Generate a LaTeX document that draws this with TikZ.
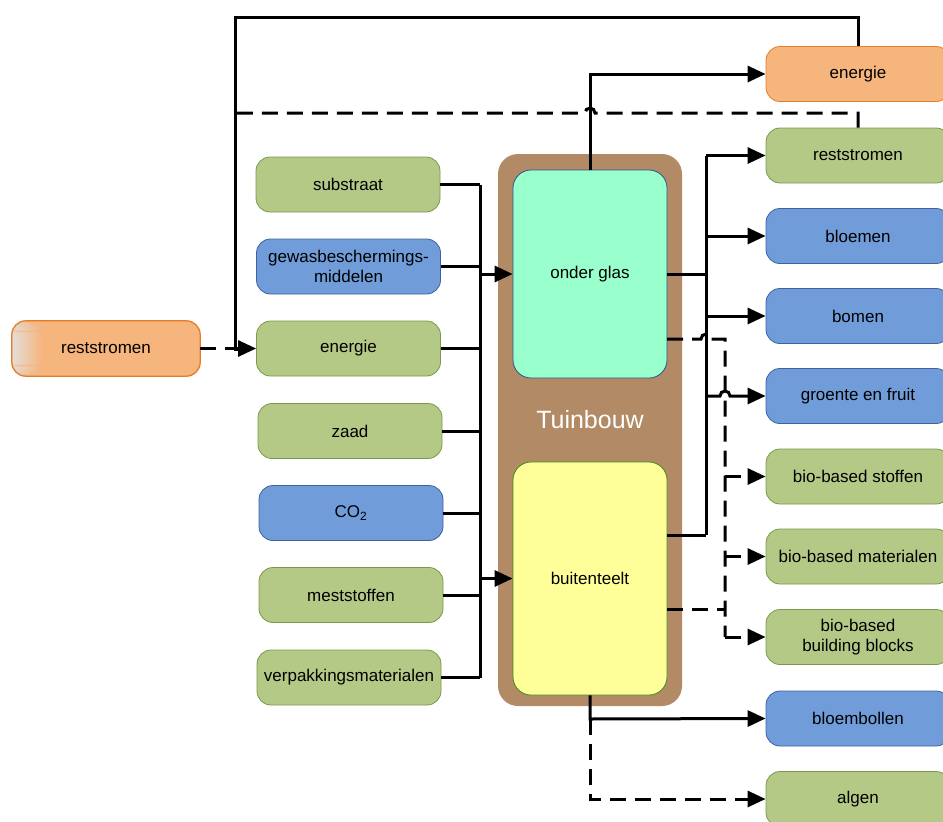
\documentclass[tikz,border=0pt]{standalone}
\usepackage{fontspec}
\setmainfont{Liberation Sans}
\usetikzlibrary{arrows.meta}
\definecolor{gfill}{RGB}{181,201,135}
\definecolor{gline}{RGB}{122,152,78}
\definecolor{bfill}{RGB}{112,157,217}
\definecolor{bline}{RGB}{62,98,160}
\definecolor{ofill}{RGB}{247,181,126}
\definecolor{oline}{RGB}{229,125,40}
\definecolor{brownc}{RGB}{178,139,102}
\definecolor{mint}{RGB}{153,255,204}
\definecolor{mintline}{RGB}{47,82,143}
\definecolor{yel}{RGB}{255,255,153}
\definecolor{yelline}{RGB}{60,140,30}
\definecolor{fadeg}{RGB}{226,222,218}
\begin{document}
\begin{tikzpicture}[x=1pt,y=-1pt,
  box/.style={rounded corners=14pt, minimum width=184pt, minimum height=55pt, inner sep=0pt, align=center, font=\fontsize{17}{20}\selectfont, line width=0.8pt},
  gbox/.style={box, fill=gfill, draw=gline},
  bbox/.style={box, fill=bfill, draw=bline},
  obox/.style={box, fill=ofill, draw=oline},
  ln/.style={line width=3pt, black},
  dl/.style={ln, dash pattern=on 16pt off 9pt},
  arr/.style={-{Triangle[length=18pt,width=16pt]}}]
\useasboundingbox (0,0) rectangle (943,822);
\clip (0,0) rectangle (943,822);

% Tuinbouw container
\node[fill=brownc, rounded corners=20pt, minimum width=184pt, minimum height=552pt, inner sep=0pt] (tb) at (590,430) {};
\node[fill=mint, draw=mintline, line width=0.8pt, rounded corners=18pt, minimum width=154pt, minimum height=208pt, inner sep=0pt, font=\fontsize{17}{20}\selectfont] (glas) at (590,274) {onder glas};
\node[fill=yel, draw=yelline, line width=0.8pt, rounded corners=18pt, minimum width=154pt, minimum height=233pt, inner sep=0pt, font=\fontsize{17}{20}\selectfont] (buit) at (590,578.5) {buitenteelt};
\node[text=white, font=\fontsize{25}{28}\selectfont] (tbl) at (590,420) {Tuinbouw};

% left inputs
\node[gbox] (subst) at (348,184.5) {substraat};
\node[bbox] (gewas) at (348.5,266.5) {gewasbeschermings-\\middelen};
\node[gbox] (enL) at (348.5,348.5) {energie};
\node[gbox] (zaad) at (350,431) {zaad};
\node[bbox] (co2) at (351,513) {CO\textsubscript{2}};
\node[gbox] (mest) at (351,595) {meststoffen};
\node[gbox] (verp) at (349,677.5) {verpakkingsmaterialen};

% left reststromen with faded left edge
\node[obox, minimum width=188pt,
  path picture={
    \foreach \i in {0,...,29}{
      \pgfmathtruncatemacro{\pc}{100-\i*100/30}
      \fill[fadeg!\pc!ofill] ([xshift=\i pt]path picture bounding box.north west) rectangle ([xshift=\i pt+1.2pt]path picture bounding box.south west);
    }}]
  (rL) at (106,348.5) {reststromen};
\draw[oline, line width=0.8pt, rounded corners=14pt] (rL.north west) rectangle (rL.south east);

% right outputs
\node[obox] (enR) at (858,74) {energie};
\node[gbox] (rR) at (858,155.5) {reststromen};
\node[bbox] (bloem) at (858,236) {bloemen};
\node[bbox] (bomen) at (858,316) {bomen};
\node[bbox] (groente) at (858,396) {groente en fruit};
\node[gbox] (bs) at (858,476.5) {bio-based stoffen};
\node[gbox] (bm) at (858,556.5) {bio-based materialen};
\node[gbox] (bb) at (858,637) {bio-based\\building blocks};
\node[bbox] (bol) at (858,718.5) {bloembollen};
\node[gbox] (alg) at (858,799) {algen};

% coordinates
\coordinate (busx) at (480,0);
\coordinate (rx) at (706,0);
\coordinate (dx) at (725,0);
\coordinate (g2) at (667,339);
\coordinate (b1) at (667,535);
\coordinate (b2) at (667,609);
\coordinate (bot) at (590,719);

% input bus
\foreach \n in {subst,gewas,enL,zaad,co2,mest,verp}
  \draw[ln] (\n.east) -- (\n.east -| busx);
\draw[ln] (subst.east -| busx) -- (verp.east -| busx);
\draw[ln,arr] (busx |- glas.west) -- (glas.west);
\draw[ln,arr] (busx |- buit.west) -- (buit.west);

% top feedback lines
\draw[ln] (enR.north) -- (858,17) -- (235,17) -- (235,349) -- (242,349);
\draw[dl] (rR.north) -- (858,113) -- (595,113) arc[start angle=0,end angle=-180,radius=5] -- (235,113);
\draw[dl,arr] (rL.east) -- (enL.west);

% onder glas to energie
\draw[ln,arr] (glas.north) -- (glas.north |- enR.west) -- (enR.west);

% solid output bus
\draw[ln] (glas.east) -- (glas.east -| rx);
\draw[ln] (b1) -- (b1 -| rx);
\draw[ln] (rx |- rR.west) -- (rx |- b1);
\draw[ln,arr] (rx |- rR.west) -- (rR.west);
\draw[ln,arr] (rx |- bloem.west) -- (bloem.west);
\draw[ln,arr] (rx |- bomen.west) -- (bomen.west);
\draw[ln,arr] (rx |- groente.west) -- (720,396) arc[start angle=180,end angle=360,radius=5] -- (groente.west);

% dashed output bus
\draw[dl] (g2) -- (701,339) arc[start angle=180,end angle=360,radius=5] -- (dx |- g2) -- (dx |- bb.west);
\draw[dl] (b2) -- (b2 -| dx);
\draw[dl,arr] (dx |- bs.west) -- (bs.west);
\draw[dl,arr] (dx |- bm.west) -- (bm.west);
\draw[dl,arr] (dx |- bb.west) -- (bb.west);

% bottom outputs
\draw[ln,arr] (buit.south) -- (bot) -- (bol.west);
\draw[dl,arr] (bot) -- (bot |- alg.west) -- (alg.west);
\end{tikzpicture}
\end{document}
